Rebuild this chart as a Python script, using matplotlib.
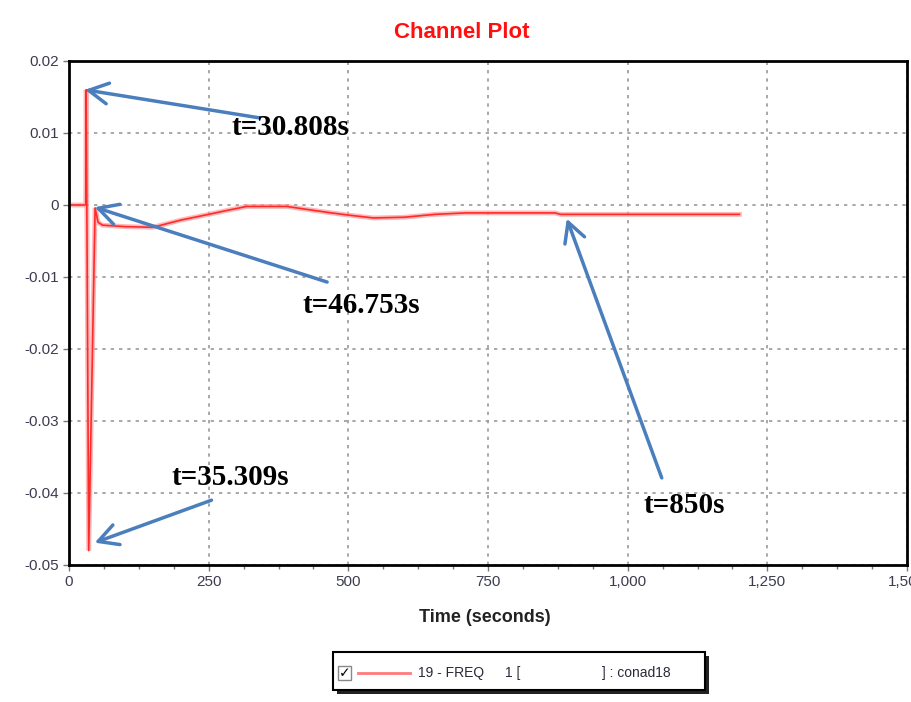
import matplotlib.pyplot as plt
from matplotlib.patches import Rectangle
from matplotlib.lines import Line2D
from matplotlib.ticker import MultipleLocator, FuncFormatter

# frequency deviation trace (time in s, value in pu)
time_s = [0, 30, 30.8, 35.3, 46.75, 52, 60, 100, 150, 175, 200, 225, 250, 280,
          318, 390, 425, 470, 500, 545, 600, 655, 710, 870, 880, 1200]
freq = [0, 0, 0.016, -0.048, -0.0004, -0.0024, -0.0028, -0.003, -0.0031, -0.0026,
        -0.0021, -0.0017, -0.0013, -0.0008, -0.0002, -0.0002, -0.0006, -0.0011,
        -0.0014, -0.0018, -0.0017, -0.0013, -0.0011, -0.0011, -0.0013, -0.0013]

x_ticks = [0, 250, 500, 750, 1000, 1250, 1500]
y_ticks = [0.02, 0.01, 0, -0.01, -0.02, -0.03, -0.04, -0.05]

# callouts: label, arrow tip, arrow tail, label anchor (left, centre)
notes = [
    ("t=30.808s", (28.6, 0.0160), (341, 0.0121), (291, 0.0108)),
    ("t=46.753s", (46.0, -0.0003), (462, -0.0107), (418, -0.0139)),
    ("t=35.309s", (46.0, -0.0469), (255, -0.0410), (184, -0.0378)),
    ("t=850s", (891, -0.0019), (1061, -0.0379), (1029, -0.0417)),
]

fig = plt.figure(figsize=(9.11, 7.02), dpi=100)
ax = fig.add_axes([69 / 911, 1 - 565 / 702, 838 / 911, 504 / 702])

ax.plot(time_s, freq, color="#ff9a9a", lw=3.5, alpha=0.7, solid_joinstyle="miter")
ax.plot(time_s, freq, color="#ff2a2a", lw=1.2)

ax.set_xlim(0, 1500)
ax.set_ylim(-0.05, 0.02)
ax.set_xticks(x_ticks)
ax.set_yticks(y_ticks)
ax.xaxis.set_minor_locator(MultipleLocator(62.5))
ax.xaxis.set_major_formatter(FuncFormatter(lambda v, p: f"{int(v):,}"))
ax.yaxis.set_major_formatter(FuncFormatter(lambda v, p: "0" if abs(v) < 1e-9 else f"{v:g}"))
ax.tick_params(axis="both", which="major", length=4, width=1, color="#777777",
               labelsize=11, labelcolor="#3c3c50")
ax.tick_params(axis="x", which="minor", length=3, width=1, color="#777777")
for lab in ax.get_xticklabels() + ax.get_yticklabels():
    lab.set_family("Liberation Sans")

ax.grid(True, which="major", color="#9a9a9a", linestyle=(0, (2, 3)), lw=1.2)
for s in ax.spines.values():
    s.set_linewidth(2)
    s.set_color("black")

for label, tip, tail, pos in notes:
    ax.annotate("", xy=tip, xytext=tail,
                arrowprops=dict(arrowstyle="->,head_length=1.4,head_width=0.75",
                                color="#4a7ebd", lw=2.5, shrinkA=0, shrinkB=0))
    ax.text(pos[0], pos[1], label, family="Liberation Serif", fontsize=21,
            fontweight="bold", color="black", ha="left", va="center")

fig.text(462 / 911, 1 - 32 / 702, "Channel Plot", color="#ff1010", fontsize=16,
         fontweight="bold", family="Liberation Sans", ha="center", va="center")
fig.text(485 / 911, 1 - 617 / 702, "Time (seconds)", color="#222222", fontsize=13,
         fontweight="bold", family="Liberation Sans", ha="center", va="center")

# legend box with drop shadow
W, H = 911, 702
fig.patches.append(Rectangle((337 / W, 1 - 694 / H), 372 / W, 38 / H,
                             transform=fig.transFigure, facecolor="#222222",
                             edgecolor="none"))
fig.patches.append(Rectangle((333 / W, 1 - 690 / H), 372 / W, 38 / H,
                             transform=fig.transFigure, facecolor="white",
                             edgecolor="black", lw=1.5))
fig.patches.append(Rectangle((338 / W, 1 - 680 / H), 13 / W, 14 / H,
                             transform=fig.transFigure, facecolor="white",
                             edgecolor="#888888", lw=1))
fig.text(344.5 / W, 1 - 673 / H, "✓", fontsize=10, fontweight="bold",
         family="DejaVu Sans", ha="center", va="center", color="black")
fig.lines.append(Line2D([358 / W, 410 / W], [1 - 673 / H, 1 - 673 / H],
                        transform=fig.transFigure, color="#ff7a7a", lw=2))
legend_font = dict(fontsize=10, family="Liberation Sans", color="#2a2a3a",
                   va="center", ha="left")
fig.text(418 / W, 1 - 673 / H, "19 - FREQ", **legend_font)
fig.text(505 / W, 1 - 673 / H, "1 [", **legend_font)
fig.text(602 / W, 1 - 673 / H, "] : conad18", **legend_font)

fig.savefig("out.png", dpi=100)
